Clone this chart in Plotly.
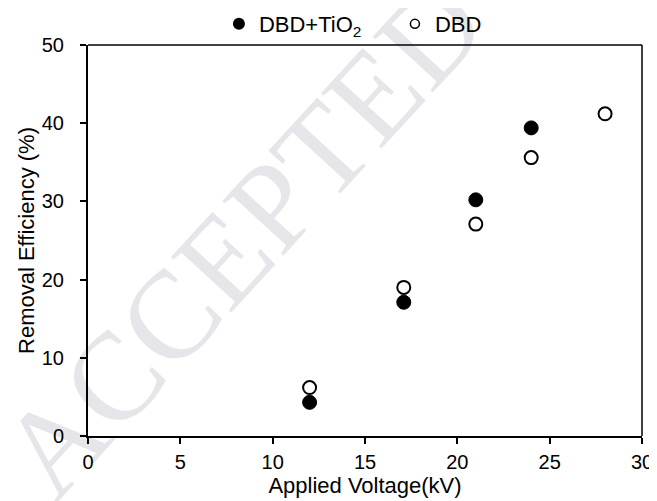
import plotly.graph_objects as go

# Data
voltage_tio2 = [12, 17.1, 21, 24]
eff_tio2 = [4.3, 17.1, 30.2, 39.4]
voltage_dbd = [12, 17.1, 21, 24, 28]
eff_dbd = [6.2, 19.0, 27.1, 35.6, 41.2]
name_tio2 = "DBD+TiO<sub>2</sub>"
name_dbd = "DBD"
x_ticks = [0, 5, 10, 15, 20, 25, 30]
y_ticks = [0, 10, 20, 30, 40, 50]

FONT = "Liberation Sans, Arial, sans-serif"

fig = go.Figure()
fig.add_trace(go.Scatter(x=voltage_tio2, y=eff_tio2, mode="markers", showlegend=False,
                         marker=dict(symbol="circle", size=14, color="black",
                                     line=dict(color="black", width=1))))
fig.add_trace(go.Scatter(x=voltage_dbd, y=eff_dbd, mode="markers", showlegend=False,
                         marker=dict(symbol="circle-open", size=13, color="black",
                                     line=dict(color="black", width=2))))
# legend entries (smaller markers as in reference)
fig.add_trace(go.Scatter(x=[None], y=[None], mode="markers", name=name_tio2,
                         marker=dict(symbol="circle", size=12, color="black")))
fig.add_trace(go.Scatter(x=[None], y=[None], mode="markers", name=name_dbd,
                         marker=dict(symbol="circle-open", size=9, color="black",
                                     line=dict(color="black", width=1.5))))

fig.update_layout(
    width=649, height=493,
    margin=dict(l=80, r=14.5, t=36.5, b=64.5, autoexpand=False),
    paper_bgcolor="white", plot_bgcolor="white",
    font=dict(family=FONT, size=20, color="black"),
    showlegend=True,
    legend=dict(orientation="h", x=0.554, xanchor="center", y=1.0536, yanchor="middle",
                font=dict(size=22), itemwidth=30, entrywidth=131, entrywidthmode="pixels",
                bgcolor="rgba(0,0,0,0)"),
    xaxis=dict(range=[0, 30], tickvals=x_ticks, showgrid=False, zeroline=False,
               showline=True, linecolor="black", linewidth=2, automargin=False,
               ticks="outside", ticklen=6, tickwidth=1.5, tickcolor="black",
               tickfont=dict(size=20), ticklabelstandoff=1,
               title=dict(text="Applied Voltage(kV)", font=dict(size=22), standoff=0)),
    yaxis=dict(range=[0, 50], tickvals=y_ticks, showgrid=False, zeroline=False,
               showline=True, linecolor="black", linewidth=2, automargin=False,
               ticks="outside", ticklen=6, tickwidth=1.5, tickcolor="black",
               tickfont=dict(size=20), ticklabelstandoff=12,
               title=dict(text="Removal Efficiency (%)", font=dict(size=22), standoff=1)),
    shapes=[
        dict(type="line", xref="paper", yref="paper", x0=0, x1=1, y0=1, y1=1,
             line=dict(color="black", width=1.5), layer="above"),
        dict(type="line", xref="paper", yref="paper", x0=1, x1=1, y0=0, y1=1,
             line=dict(color="black", width=1.5), layer="above"),
        dict(type="rect", xref="paper", yref="paper", x0=0.25, x1=0.27, y0=0.52, y1=0.54,
             line=dict(width=0), fillcolor="rgba(0,0,0,0)", layer="below",
             label=dict(text="ACCEPTED", textangle=-47.5, textposition="middle center",
                        font=dict(family="Liberation Serif, Times New Roman, serif",
                                  size=125, color="#e6e6ea"))),
    ],
)

fig.write_html("out.html")
